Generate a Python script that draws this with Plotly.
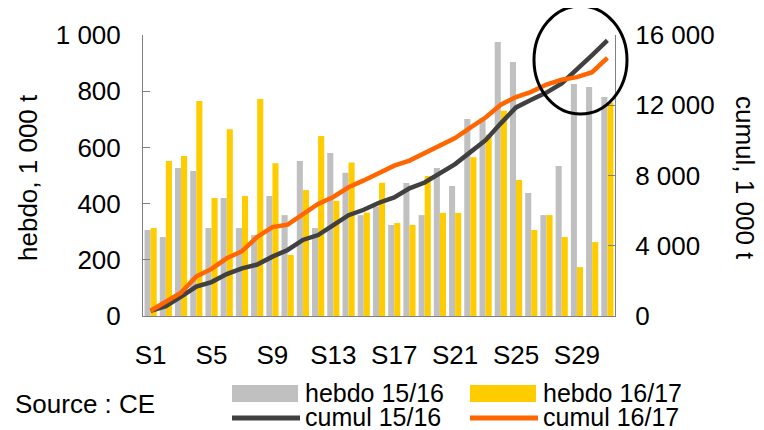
import plotly.graph_objects as go

# weekly imports (1 000 t)
weeks = [f"S{i}" for i in range(1, 32)]
hebdo_1516 = [306, 281, 527, 516, 313, 420, 313, 288, 427, 359, 552, 313, 580, 510, 359,
              390, 324, 473, 359, 527, 463, 701, 705, 975, 904, 438, 359, 534, 826, 815, 779]
hebdo_1617 = [313, 552, 569, 765, 420, 665, 427, 772, 544, 217, 448, 641, 410, 546, 368,
              474, 331, 324, 498, 367, 367, 565, 645, 730, 484, 306, 359, 281, 174, 263, 760]
cumul_1516 = [290, 560, 1100, 1670, 1930, 2390, 2715, 2930, 3380, 3760, 4330, 4610, 5180, 5740, 6050,
              6450, 6750, 7270, 7600, 8130, 8650, 9330, 10010, 10970, 11880, 12310, 12720, 13240, 14030, 14860, 15700]
cumul_1617 = [300, 780, 1330, 2250, 2680, 3285, 3690, 4500, 5060, 5200, 5800, 6380, 6780, 7330, 7720,
              8150, 8560, 8850, 9290, 9700, 10130, 10730, 11300, 12030, 12470, 12760, 13180, 13450, 13600, 13880, 14700]
xticks = ["S1", "S5", "S9", "S13", "S17", "S21", "S25", "S29"]

GREY = "#C0C0C0"
YELLOW = "#FFCC00"
DARK = "#404040"
ORANGE = "#FF6600"
FONT = "Liberation Sans, Arial, sans-serif"
FS = 26

# the page body adds an 8px margin, so the figure is drawn 8px smaller and
# positions below are given in window pixels then shifted back
OFF = 8
W, H = 764 - OFF, 430 - OFF
# plot area in window pixels: x 143..615, y 35..316
L, R, T, B = 143 - OFF, 764 - 615, 35 - OFF, 430 - 316


def px(x):
    return (x - OFF - L) / (W - L - R)


def py(y):
    return (H - B - (y - OFF)) / (H - T - B)


fig = go.Figure()
fig.add_bar(x=weeks, y=hebdo_1516, name="hebdo 15/16", marker_color=GREY, marker_line_width=0)
fig.add_bar(x=weeks, y=hebdo_1617, name="hebdo 16/17", marker_color=YELLOW, marker_line_width=0)
fig.add_scatter(x=weeks, y=cumul_1516, name="cumul 15/16", mode="lines",
                line=dict(color=DARK, width=4.5), yaxis="y2")
fig.add_scatter(x=weeks, y=cumul_1617, name="cumul 16/17", mode="lines",
                line=dict(color=ORANGE, width=4.5), yaxis="y2")

axcol = "#808080"
fig.update_layout(
    width=W, height=H,
    margin=dict(l=L, r=R, t=T, b=B),
    paper_bgcolor="white", plot_bgcolor="white",
    font=dict(family=FONT, size=FS, color="black"),
    separators=", ",
    showlegend=False,
    barmode="group", bargap=0.2, bargroupgap=0,
    xaxis=dict(type="category", tickmode="array", tickvals=xticks, ticktext=xticks,
               showline=True, linecolor=axcol, linewidth=1, ticks="",
               showgrid=False, ticklabelstandoff=16, range=[-0.5, 30.5]),
    yaxis=dict(range=[0, 1000], dtick=200, tickformat=",d", showgrid=False, zeroline=False,
               showline=True, linecolor=axcol, linewidth=1,
               ticks="inside", ticklen=7, tickcolor=axcol, ticklabelstandoff=16),
    yaxis2=dict(range=[0, 16000], dtick=4000, tickformat=",d", overlaying="y", side="right",
                showgrid=False, zeroline=False, showline=True, linecolor=axcol, linewidth=1,
                ticks="inside", ticklen=7, tickcolor=axcol, ticklabelstandoff=14),
)

# axis titles
fig.add_annotation(text="hebdo, 1 000 t", textangle=-90, x=px(28), y=py(178),
                   xref="paper", yref="paper", showarrow=False, xanchor="center", yanchor="middle")
fig.add_annotation(text="cumul, 1 000 t", textangle=90, x=px(745), y=py(178),
                   xref="paper", yref="paper", showarrow=False, xanchor="center", yanchor="middle")

# circle highlighting the last weeks
fig.add_shape(type="circle", xref="paper", yref="paper",
              x0=px(534), x1=px(627), y0=py(114), y1=py(6),
              line=dict(color="black", width=3))

# legend, drawn by hand to get Excel-like wide keys
fig.add_annotation(text="Source : CE", x=px(13), y=py(404), xref="paper", yref="paper",
                   showarrow=False, xanchor="left", yanchor="middle")
keys = [
    ("rect", GREY, 232, 393, "hebdo 15/16"),
    ("rect", YELLOW, 470, 393, "hebdo 16/17"),
    ("line", DARK, 232, 417, "cumul 15/16"),
    ("line", ORANGE, 470, 417, "cumul 16/17"),
]
for kind, col, x0, yc, label in keys:
    if kind == "rect":
        fig.add_shape(type="rect", xref="paper", yref="paper", x0=px(x0), x1=px(x0 + 66),
                      y0=py(yc + 9), y1=py(yc - 8), fillcolor=col, line_width=0)
    else:
        fig.add_shape(type="line", xref="paper", yref="paper", x0=px(x0), x1=px(x0 + 68),
                      y0=py(yc + 1), y1=py(yc + 1), line=dict(color=col, width=5))
    fig.add_annotation(text=label, x=px(x0 + 71), y=py(yc), xref="paper", yref="paper",
                       showarrow=False, xanchor="left", yanchor="middle",
                       font=dict(size=25))

fig.write_html("out.html")
